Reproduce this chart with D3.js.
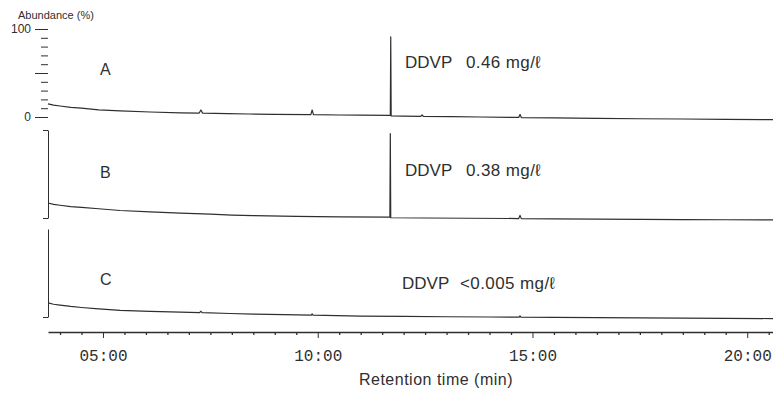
<!DOCTYPE html>
<html>
<head>
<meta charset="utf-8">
<script src="https://cdn.jsdelivr.net/npm/d3@7"></script>
<style>
  body { margin: 0; background: #fff; }
  svg { display: block; font-family: "Liberation Sans", Arial, sans-serif; }
</style>
</head>
<body>
<script>
// retention time (min), abundance (%)
const traceA = [
  [3.72, 15], [3.85, 13.5], [4.0, 12.5], [4.25, 11], [4.5, 10], [4.9, 8], [5.4, 7],
  [6.1, 5.7], [6.8, 4.8], [7.24, 4.5], [7.28, 8], [7.32, 4.4], [7.9, 3.8], [8.4, 3.4],
  [9.0, 3], [9.84, 2.7], [9.87, 8], [9.90, 2.6], [10.5, 2.3], [11.0, 2.1], [11.69, 1.8],
  [11.70, 91], [11.71, 1.2], [12.0, 1], [12.40, 0.8], [12.43, 2.5], [12.46, 0.7],
  [13.1, 0.5], [13.8, 0], [14.68, -0.5], [14.71, 3], [14.74, -0.6], [15.5, -1],
  [16.5, -1.5], [17.5, -2], [18.5, -2.3], [19.5, -2.6], [20.6, -3]
]
const traceB = [
  [3.72, 17], [3.85, 15.5], [4.0, 14.5], [4.25, 13], [4.5, 12], [4.9, 10.5], [5.4, 8.5],
  [6.1, 7], [6.8, 5.5], [7.5, 4.3], [8.0, 3.3], [8.5, 2.7], [9.5, 1.8], [10.5, 1.3],
  [11.68, 0.9], [11.69, 96], [11.70, 0.3], [12.5, 0], [13.5, -0.3], [14.68, -0.6],
  [14.71, 3], [14.74, -0.7], [15.5, -1], [16.5, -1.3], [17.5, -1.6], [18.5, -1.8],
  [19.5, -2], [20.6, -2.2]
]
const traceC = [
  [3.72, 16], [3.85, 14.5], [4.0, 13.6], [4.25, 12], [4.5, 10.8], [4.9, 9.2], [5.4, 7.6],
  [6.1, 6.3], [6.8, 5.5], [7.25, 5], [7.28, 6.5], [7.31, 4.9], [7.96, 4], [8.5, 3.3],
  [9.2, 2.6], [9.85, 2.2], [9.87, 3.5], [9.89, 2.1], [11.0, 1], [12.0, 0.6], [13.0, 0.3],
  [14.0, 0], [14.69, -0.2], [14.71, 1.2], [14.73, -0.2], [15.5, -0.5], [16.5, -0.8],
  [17.5, -1], [18.5, -1.3], [19.5, -1.5], [20.6, -1.8]
]

const panelNames = ['A', 'B', 'C']
const compound = 'DDVP'
const concentrations = ['0.46 mg/\u2113', '0.38 mg/\u2113', '<0.005 mg/\u2113']
const majorTimes = [5, 10, 15, 20]
const minorTimes = d3.range(4, 20.6, 0.5).filter(t => !majorTimes.includes(t))
const yTicksA = d3.range(0, 101, 10)

const width = 773
const height = 395
const ink = '#2f2f2f'

const svg = d3.select('body').append('svg')
  .attr('width', width)
  .attr('height', height)
  .attr('viewBox', `0 0 ${width} ${height}`)

const x = d3.scaleLinear()
  .domain([3.72, 20.6])
  .range([48, 773])

// vertical extent of each panel (0% .. 100%)
const panels = [
  {trace: traceA, bottom: 117, top: 29, labelY: 75, noteX: 405, valueX: 466, noteY: 68},
  {trace: traceB, bottom: 218, top: 130, labelY: 178, noteX: 405, valueX: 466, noteY: 176},
  {trace: traceC, bottom: 317, top: 229, labelY: 285, noteX: 402, valueX: 460, noteY: 289}
]

panels.forEach((p, i) => {
  const y = d3.scaleLinear().domain([0, 100]).range([p.bottom, p.top])
  const line = d3.line().x(d => x(d[0])).y(d => y(d[1]))

  svg.append('path')
    .datum(p.trace)
    .attr('d', line)
    .attr('fill', 'none')
    .attr('stroke', ink)
    .attr('stroke-width', 1.2)
    .attr('stroke-linejoin', 'round')

  if (i == 0) {
    // panel A: tick-only scale
    svg.append('g')
      .attr('transform', `translate(48,0)`)
      .call(d3.axisLeft(y).tickValues(yTicksA.filter(v => v % 50)).tickSize(7).tickFormat(''))
      .call(g => g.select('.domain').remove())
    svg.append('g')
      .attr('transform', `translate(48,0)`)
      .call(d3.axisLeft(y).tickValues([0, 50, 100]).tickSize(13).tickPadding(4)
        .tickFormat(v => v == 50 ? '' : v))
      .call(g => g.select('.domain').remove())
      .call(g => g.selectAll('text').attr('font-size', 12).attr('font-family', null).attr('fill', ink))
  } else {
    svg.append('g')
      .attr('transform', `translate(48,0)`)
      .call(d3.axisLeft(y).tickValues(i == 1 ? [0, 100] : [0]).tickSize(5).tickFormat('').tickSizeOuter(0))
  }

  svg.append('text')
    .attr('x', 100)
    .attr('y', p.labelY)
    .attr('font-size', 16)
    .attr('fill', ink)
    .text(panelNames[i])

  svg.append('text')
    .attr('x', p.noteX)
    .attr('y', p.noteY)
    .attr('font-size', 17)
    .attr('fill', ink)
    .text(compound)

  svg.append('text')
    .attr('x', p.valueX)
    .attr('y', p.noteY)
    .attr('font-size', 17)
    .attr('letter-spacing', 0.4)
    .attr('fill', ink)
    .text(concentrations[i])
})

svg.selectAll('.tick line, .domain').attr('stroke', ink)

// time axis
const axisY = 332
svg.append('g')
  .attr('transform', `translate(0,${axisY})`)
  .call(d3.axisBottom(x).tickValues(minorTimes).tickSize(3).tickFormat('').tickSizeOuter(0))
  .call(g => g.selectAll('line, path').attr('stroke', ink).attr('stroke-width', 1.3))
svg.append('g')
  .attr('transform', `translate(0,${axisY})`)
  .call(d3.axisBottom(x).tickValues(majorTimes).tickSize(6).tickPadding(12).tickSizeOuter(0)
    .tickFormat(t => String(t).padStart(2, '0') + ':00'))
  .call(g => g.select('.domain').remove())
  .call(g => g.selectAll('line').attr('stroke', ink))
  .call(g => g.selectAll('text').attr('font-size', 16).attr('font-family', '"Liberation Mono", monospace').attr('fill', ink))

svg.append('text')
  .attr('x', 436)
  .attr('y', 385)
  .attr('text-anchor', 'middle')
  .attr('font-size', 16)
  .attr('letter-spacing', 0.5)
  .attr('fill', ink)
  .text('Retention time (min)')

svg.append('text')
  .attr('x', 18)
  .attr('y', 19)
  .attr('font-size', 11)
  .attr('fill', ink)
  .text('Abundance (%)')
</script>
</body>
</html>
